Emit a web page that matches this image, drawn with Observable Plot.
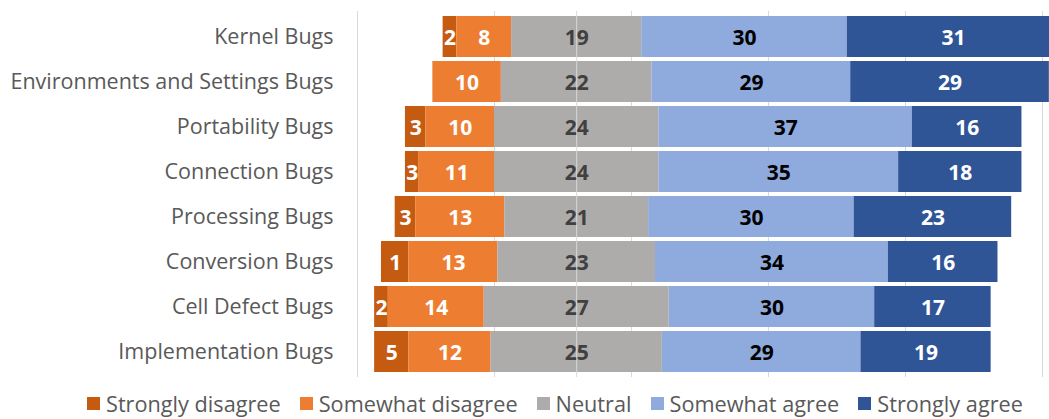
<!DOCTYPE html>
<html>
<head>
<meta charset="utf-8">
<script src="https://cdn.jsdelivr.net/npm/d3@7"></script>
<script src="https://cdn.jsdelivr.net/npm/@observablehq/plot@0.6"></script>
<style>
  html, body { margin: 0; padding: 0; background: #fff; }
  #chart svg { display: block; font-family: "Open Sans", sans-serif; }
  #legend { display: flex; justify-content: flex-start; align-items: center; height: 31px; padding-left: 87px;
            font-family: "Open Sans", sans-serif; font-size: 21.7px; color: #595959; white-space: nowrap; }
  #legend .item { display: flex; align-items: center; margin-right: 19px; }
  #legend .sw { width: 13px; height: 13px; margin-right: 6px; }
</style>
</head>
<body>
<div id="chart"></div>
<div id="legend"></div>
<script>
const categories = ["Kernel Bugs", "Environments and Settings Bugs", "Portability Bugs", "Connection Bugs",
  "Processing Bugs", "Conversion Bugs", "Cell Defect Bugs", "Implementation Bugs"];
const seriesNames = ["Strongly disagree", "Somewhat disagree", "Neutral", "Somewhat agree", "Strongly agree"];
// bar widths as drawn in the picture; the printed labels differ for two bars
const stronglyDisagree = [2, 0, 3, 2, 3, 4, 2, 5];
const stronglyDisagreeLabels = ["2", "", "3", "3", "3", "1", "2", "5"];
const somewhatDisagree = [8, 10, 10, 11, 13, 13, 14, 12];
const neutral = [19, 22, 24, 24, 21, 23, 27, 25];
const somewhatAgree = [30, 29, 37, 35, 30, 34, 30, 29];
const stronglyAgree = [31, 29, 16, 18, 23, 16, 17, 19];
const seriesColors = ["#C55A11", "#ED7D31", "#AEABAB", "#8FAADC", "#2F5597"];
const labelColors = ["#ffffff", "#ffffff", "#404040", "#000000", "#ffffff"];
const gridTicks = [-32, -12, 8, 28, 48, 68];

const seriesValues = [stronglyDisagree, somewhatDisagree, neutral, somewhatAgree, stronglyAgree];
const rows = [];
categories.forEach((cat, i) => {
  let start = -(stronglyDisagree[i] + somewhatDisagree[i] + neutral[i] / 2);
  seriesValues.forEach((vals, s) => {
    const v = vals[i];
    const label = s === 0 ? stronglyDisagreeLabels[i] : (v > 0 ? String(v) : "");
    rows.push({category: cat, series: seriesNames[s], s, value: v, x1: start, x2: start + v, mid: start + v / 2, label});
    start += v;
  });
});

const textMarks = seriesNames.map((name, s) =>
  Plot.text(rows.filter(d => d.s === s && d.label !== ""), {
    y: "category", x: "mid", text: "label", fill: labelColors[s],
    fontWeight: "bold", fontSize: 21, dy: 1
  })
);

const chart = Plot.plot({
  width: 1049,
  height: 388,
  marginLeft: 357,
  marginRight: 7,
  marginTop: 11,
  marginBottom: 11,
  x: {domain: [-32, 68], axis: null},
  y: {domain: categories, paddingInner: 0.09, paddingOuter: 0.045, axis: null},
  color: {domain: seriesNames, range: seriesColors},
  marks: [
    Plot.ruleX(gridTicks, {stroke: "#d9d9d9", strokeWidth: 1}),
    Plot.barX(rows, {y: "category", x1: "x1", x2: "x2", fill: "series"}),
    Plot.ruleX([0], {stroke: "#d9d9d9", strokeWidth: 1}),
    ...textMarks,
    Plot.axisY({tickSize: 0, tickPadding: 24, fontSize: 21.5, color: "#595959", label: null})
  ]
});
document.getElementById("chart").appendChild(chart);

const legend = document.getElementById("legend");
seriesNames.forEach((name, s) => {
  const item = document.createElement("div");
  item.className = "item";
  const sw = document.createElement("span");
  sw.className = "sw";
  sw.style.background = seriesColors[s];
  const t = document.createElement("span");
  t.textContent = name;
  item.appendChild(sw);
  item.appendChild(t);
  legend.appendChild(item);
});
</script>
</body>
</html>
